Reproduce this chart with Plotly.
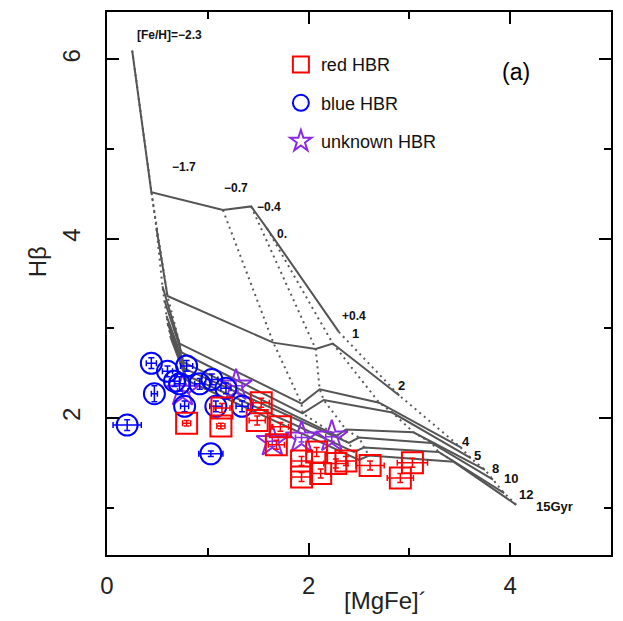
import plotly.graph_objects as go

# ---------------- data ----------------
ages = [1, 2, 4, 5, 8, 10, 12, 15]
feh = [-2.3, -1.7, -0.7, -0.4, 0.0, 0.4]

grid_mgfe = {
    1:  [0.25, 0.44, 1.15, 1.43, 1.59, 2.30],
    2:  [0.49, 0.60, 1.65, 2.07, 2.24, 2.90],
    4:  [0.55, 0.72, 1.93, 2.11, 2.70, 3.51],
    5:  [0.57, 0.74, 1.94, 2.15, 2.83, 3.61],
    8:  [0.59, 0.76, 2.28, 2.37, 3.04, 3.75],
    10: [0.60, 0.77, 2.40, 2.50, 3.22, 3.83],
    12: [0.62, 0.78, 2.45, 2.55, 3.29, 3.94],
    15: [0.63, 0.79, 2.50, 2.60, 3.44, 4.06],
}
grid_hb = {
    1:  [6.10, 4.52, 4.32, 4.36, 4.11, 2.96],
    2:  [4.12, 3.36, 2.84, 2.77, 2.83, 2.25],
    4:  [3.47, 2.83, 2.16, 2.32, 2.17, 1.67],
    5:  [3.31, 2.73, 2.05, 2.20, 2.06, 1.55],
    8:  [3.14, 2.62, 1.80, 1.87, 1.84, 1.42],
    10: [3.06, 2.55, 1.72, 1.78, 1.72, 1.31],
    12: [2.97, 2.48, 1.62, 1.67, 1.62, 1.16],
    15: [2.90, 2.42, 1.53, 1.58, 1.51, 1.03],
}

red_x = [0.79, 1.13, 1.14, 1.53, 1.49, 1.72, 1.68, 1.93, 1.93, 2.08, 2.12, 2.27, 2.37, 2.61, 2.91, 3.03]
red_y = [1.94, 1.91, 2.11, 2.17, 1.97, 1.90, 1.70, 1.52, 1.34, 1.62, 1.38, 1.49, 1.52, 1.47, 1.33, 1.50]
red_ex = [0.04, 0.04, 0.08, 0.08, 0.08, 0.08, 0.08, 0.1, 0.1, 0.1, 0.1, 0.12, 0.1, 0.14, 0.13, 0.15]
red_ey = [0.03, 0.03, 0.05, 0.05, 0.05, 0.05, 0.05, 0.05, 0.05, 0.05, 0.05, 0.05, 0.05, 0.05, 0.05, 0.05]

blue_x = [0.20, 0.44, 0.47, 0.60, 0.79, 0.72, 0.77, 1.04, 1.18, 1.08, 1.34, 1.03, 0.67, 0.92]
blue_y = [1.92, 2.61, 2.27, 2.52, 2.58, 2.38, 2.13, 2.43, 2.33, 2.13, 2.13, 1.60, 2.41, 2.38]
blue_ex = [0.14, 0.05, 0.03, 0.05, 0.06, 0.05, 0.04, 0.06, 0.05, 0.06, 0.06, 0.12, 0.05, 0.05]
blue_ey = [0.06, 0.06, 0.09, 0.06, 0.06, 0.08, 0.06, 0.06, 0.06, 0.06, 0.06, 0.03, 0.06, 0.06]

star_x = [1.64, 1.93, 2.23, 1.28, 0.75]
star_y = [1.74, 1.78, 1.79, 2.36, 2.30]
star_ex = [0.06, 0.06, 0.06, 0.06, 0.05]
star_ey = [0.06, 0.05, 0.05, 0.06, 0.06]

feh_labels = ["[Fe/H]=\u22122.3", "\u22121.7", "\u22120.7", "\u22120.4", "0.", "+0.4"]
feh_label_x = [0.62, 0.76, 1.28, 1.61, 1.74, 2.45]
feh_label_y = [6.27, 4.80, 4.57, 4.35, 4.05, 3.14]
age_labels = ["1", "2", "4", "5", "8", "10", "12", "15Gyr"]
age_label_x = [2.47, 2.92, 3.56, 3.68, 3.85, 4.01, 4.16, 4.44]
age_label_y = [2.94, 2.36, 1.74, 1.58, 1.43, 1.32, 1.14, 1.01]

x_range = [0, 5]
y_range = [0.47, 6.53]

fig = go.Figure()

GRID_COL = "#555555"
# iso-metallicity lines (dotted)
for j in range(len(feh)):
    fig.add_trace(go.Scatter(
        x=[grid_mgfe[a][j] for a in ages], y=[grid_hb[a][j] for a in ages],
        mode="lines", line=dict(color="#5a5a5a", width=2, dash="2px,4px"),
        showlegend=False, hoverinfo="skip"))
# isochrones (solid)
for a in ages:
    fig.add_trace(go.Scatter(
        x=grid_mgfe[a], y=grid_hb[a], mode="lines",
        line=dict(color=GRID_COL, width=2), showlegend=False, hoverinfo="skip"))

def pts(x, y, ex, ey, color, symbol, name, size, rank):
    return go.Scatter(
        x=x, y=y, mode="markers", name=name, legendgroup=name, legendrank=rank,
        marker=dict(symbol=symbol, size=size, color=color,
                    line=dict(color=color, width=2)),
        error_x=dict(type="data", array=ex, color=color, thickness=1.5, width=3),
        error_y=dict(type="data", array=ey, color=color, thickness=1.5, width=3))

# drawing order: stars below, then blue, red on top; legend order kept by rank
fig.add_trace(pts(star_x, star_y, star_ex, star_ey, "#8a2be2", "star-open", "unknown HBR", 24, 3))
fig.add_trace(pts(blue_x, blue_y, blue_ex, blue_ey, "#0000ff", "circle-open", "blue HBR", 21, 2))
fig.add_trace(pts(red_x, red_y, red_ex, red_ey, "#ff0000", "square-open", "red HBR", 21, 1))

# helper trace so the top/right tick axes are drawn
fig.add_trace(go.Scatter(x=[None], y=[None], xaxis="x2", yaxis="y2",
                         showlegend=False, hoverinfo="skip"))

for t, x, y in zip(feh_labels, feh_label_x, feh_label_y):
    fig.add_annotation(x=x, y=y, text="<b>" + t + "</b>", showarrow=False,
                       font=dict(family="Liberation Sans, Arial", size=12, color="#111"))
for t, x, y in zip(age_labels, age_label_x, age_label_y):
    fig.add_annotation(x=x, y=y, text="<b>" + t + "</b>", showarrow=False,
                       font=dict(family="Liberation Sans, Arial", size=13, color="#111"))

fig.add_annotation(xref="paper", yref="paper", x=0.812, y=0.89, xanchor="center", yanchor="middle",
                   text="(a)", showarrow=False,
                   font=dict(family="Liberation Sans, Arial", size=23, color="black"))
fig.add_annotation(xref="paper", yref="paper", x=0.553, y=-0.083, xanchor="center", yanchor="middle",
                   text="[MgFe]\u00b4", showarrow=False,
                   font=dict(family="Liberation Sans, Arial", size=24, color="#222"))
fig.add_annotation(xref="paper", yref="paper", x=-0.138, y=0.54, xanchor="center", yanchor="middle",
                   text="H\u03b2", textangle=-90, showarrow=False,
                   font=dict(family="Liberation Sans, Arial", size=24, color="#222"))

tick_common = dict(ticks="inside", ticklen=12, tickwidth=2, tickcolor="black",
                   showgrid=False, zeroline=False)
minor_common = dict(ticklen=7, tickwidth=2, tickcolor="black", ticks="inside", showgrid=False)
font_tick = dict(family="Liberation Sans, Arial", size=24, color="#222")

fig.update_layout(
    width=623, height=621,
    margin=dict(l=107, r=10, t=10, b=66),
    paper_bgcolor="white", plot_bgcolor="white",
    xaxis=dict(range=x_range, dtick=2, tick0=0, minor=dict(dtick=1, **minor_common),
               showline=True, linecolor="black", linewidth=2, mirror=True,
               tickfont=font_tick, ticklabelstandoff=8, **tick_common),
    yaxis=dict(range=y_range, dtick=2, tick0=0, tickangle=-90,
               minor=dict(dtick=1, **minor_common),
               showline=True, linecolor="black", linewidth=2, mirror=True,
               tickfont=font_tick, ticklabelstandoff=15, **tick_common),
    xaxis2=dict(range=x_range, overlaying="x", side="top", anchor="y",
                dtick=2, tick0=0, minor=dict(dtick=1, **minor_common),
                showticklabels=False, showline=False, **tick_common),
    yaxis2=dict(range=y_range, overlaying="y", side="right", anchor="x",
                dtick=2, tick0=0, minor=dict(dtick=1, **minor_common),
                showticklabels=False, showline=False, **tick_common),
    legend=dict(x=0.345, y=0.937, xanchor="left", yanchor="top",
                bgcolor="rgba(0,0,0,0)", itemsizing="trace",
                font=dict(family="Liberation Sans, Arial", size=18, color="#111"),
                tracegroupgap=12),
)

fig.write_html("out.html")
